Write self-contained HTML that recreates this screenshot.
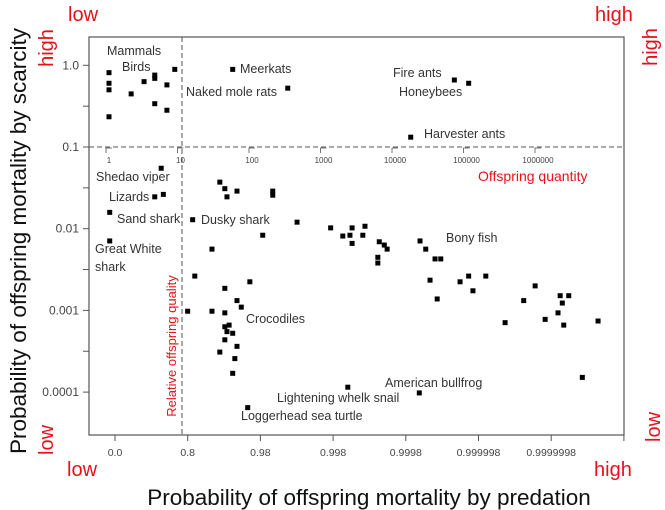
<!DOCTYPE html>
<html><head><meta charset="utf-8">
<style>
html,body{margin:0;padding:0;background:#fff;}
svg{display:block;font-family:"Liberation Sans",sans-serif;}
</style></head>
<body>
<svg id="chart" width="665" height="510" viewBox="0 0 665 510" xmlns="http://www.w3.org/2000/svg">
  <rect x="89" y="37" width="535" height="398" fill="none" stroke="#555" stroke-width="1.2"/>
  <line x1="182" y1="37" x2="182" y2="435" stroke="#555" stroke-dasharray="5,3"/>
  <line x1="89" y1="147" x2="624" y2="147" stroke="#555" stroke-dasharray="5,3"/>
  <g id="axes"></g>
  <g id="points"></g>
  <g id="labels" font-size="12.5" fill="#333">
    <text x="107" y="55">Mammals</text>
    <text x="122" y="71">Birds</text>
    <text x="240" y="73">Meerkats</text>
    <text x="186" y="96">Naked mole rats</text>
    <text x="393" y="77">Fire ants</text>
    <text x="399" y="96">Honeybees</text>
    <text x="424" y="138">Harvester ants</text>
    <text x="96" y="181">Shedao viper</text>
    <text x="109" y="201">Lizards</text>
    <text x="117" y="223">Sand shark</text>
    <text x="95" y="253">Great White</text>
    <text x="95" y="271">shark</text>
    <text x="201" y="224">Dusky shark</text>
    <text x="446" y="242">Bony fish</text>
    <text x="246" y="323">Crocodiles</text>
    <text x="277" y="402">Lightening whelk snail</text>
    <text x="385" y="387">American bullfrog</text>
    <text x="241" y="420">Loggerhead sea turtle</text>
  </g>
  <g fill="#e8111a">
    <text x="478" y="181" font-size="14">Offspring quantity</text>
    <text transform="translate(176,346) rotate(-90)" text-anchor="middle" font-size="13">Relative offspring quality</text>
    <text x="68" y="21" font-size="20">low</text>
    <text x="595" y="21" font-size="20">high</text>
    <text x="67" y="476" font-size="20">low</text>
    <text x="594" y="476" font-size="20">high</text>
    <text transform="translate(53,48) rotate(-90)" text-anchor="middle" font-size="20">high</text>
    <text transform="translate(53,440) rotate(-90)" text-anchor="middle" font-size="20">low</text>
    <text transform="translate(657,47) rotate(-90)" text-anchor="middle" font-size="20">high</text>
    <text transform="translate(660,427) rotate(-90)" text-anchor="middle" font-size="20">low</text>
  </g>
  <text x="369" y="505" text-anchor="middle" font-size="22.5" fill="#111">Probability of offspring mortality by predation</text>
  <text transform="translate(26,241) rotate(-90)" text-anchor="middle" font-size="22.5" fill="#111">Probability of offspring mortality by scarcity</text>
</svg>
<script>
// log10 of offspring quantity (top axis) for each species point
const logQuantity = [0,0,0,0,0.31,0.49,0.64,0.64,0.64,0.81,0.81,0.92,1.73,2.50,4.83,5.03,4.22,
0.73,0.64,0.76,0.01,0.01,1.17,1.44,1.20,1.55,1.62,1.65,1.79,2.29,2.29,2.63,2.15,3.10,3.27,3.37,3.40,3.40,3.55,3.58,
3.78,3.85,3.89,3.76,3.76,4.35,4.43,4.56,4.64,4.49,4.59,4.91,5.03,5.09,5.27,5.54,5.80,5.96,6.10,6.28,6.31,6.43,6.34,6.36,6.84,6.62,
1.97,1.62,1.79,1.85,1.10,1.44,1.62,1.68,1.62,1.65,1.73,1.62,1.79,1.55,1.76,1.73,3.34,4.34,1.94];
// log10 of probability of mortality by scarcity
const logScarcity = [-0.09,-0.22,-0.30,-0.63,-0.35,-0.20,-0.12,-0.16,-0.47,-0.24,-0.55,-0.05,-0.05,-0.28,-0.18,-0.22,-0.88,
-1.26,-1.61,-1.58,-1.80,-2.15,-1.89,-2.25,-2.58,-1.43,-1.51,-1.61,-1.54,-1.54,-1.59,-1.92,-2.08,-1.99,-2.09,-2.08,-1.99,-2.18,-2.08,-1.97,
-2.16,-2.20,-2.25,-2.35,-2.42,-2.15,-2.25,-2.37,-2.37,-2.63,-2.86,-2.65,-2.58,-2.76,-2.58,-3.15,-2.88,-2.70,-3.11,-3.03,-2.82,-2.82,-2.91,-3.18,-3.13,-3.82,
-2.65,-2.73,-2.88,-2.96,-3.01,-3.01,-3.03,-3.18,-3.20,-3.26,-3.28,-3.36,-3.44,-3.51,-3.59,-3.77,-3.94,-4.01,-4.19];
const yTickValues = [0,-1,-2,-3,-4];
const yTickLabels = ["1.0","0.1","0.01","0.001","0.0001"];
const topTickValues = [0,1,2,3,4,5,6];
const topTickLabels = ["1","10","100","1000","10000","100000","1000000"];
const bottomTickLabels = ["0.0","0.8","0.98","0.998","0.9998","0.999998","0.9999998",""];

const NS = "http://www.w3.org/2000/svg";
function xScale(l){ return 109 + 71.5*l; }
function yScale(l){ return 147 - 81.7*(l+1); }
function bottomX(i){ return 115 + 72.7*i; }
function mk(tag, attrs, parent){
  const e = document.createElementNS(NS, tag);
  for (const k in attrs) e.setAttribute(k, attrs[k]);
  parent.appendChild(e); return e;
}
const axes = document.getElementById('axes');
yTickValues.forEach((v,i)=>{
  const y = yScale(v);
  const t = mk('line',{x1:83,x2:89,y1:y,y2:y,stroke:'#555'},axes);
  
  
  const tx = mk('text',{x:79,y:y+4,'text-anchor':'end','font-size':12,fill:'#444'},axes);
  tx.textContent = yTickLabels[i];
  
  
  if (i < yTickValues.length-1){
    const ym = yScale(v-0.5);
    const m = mk('line',{x1:83,x2:89,y1:ym,y2:ym,stroke:'#555'},axes);
    
    
  }
});
topTickValues.forEach((v,i)=>{
  const x = xScale(v);
  const t = mk('path',{d:`M${x-3},153 L${x-3},148 L${x+3},148`,fill:'none',stroke:'#555','stroke-width':0.8},axes);
  
  
  const tx = mk('text',{x:x,y:163,'text-anchor':'middle','font-size':8,fill:'#444'},axes);
  tx.textContent = topTickLabels[i];
  
  
});
bottomTickLabels.forEach((lab,i)=>{
  const x = bottomX(i);
  const t = mk('line',{x1:x,x2:x,y1:435,y2:441,stroke:'#555'},axes);
  
  
  const tx = mk('text',{x:x,y:456,'text-anchor':'middle','font-size':10.5,fill:'#444'},axes);
  tx.textContent = lab;
  
  
});
const pts = document.getElementById('points');
logQuantity.forEach((q,i)=>{
  const x = xScale(q), y = yScale(logScarcity[i]);
  const r = mk('rect',{x:x-2.5,y:y-2.5,width:5,height:5,fill:'#000'},pts);
  
  
});
</script>
</body></html>
